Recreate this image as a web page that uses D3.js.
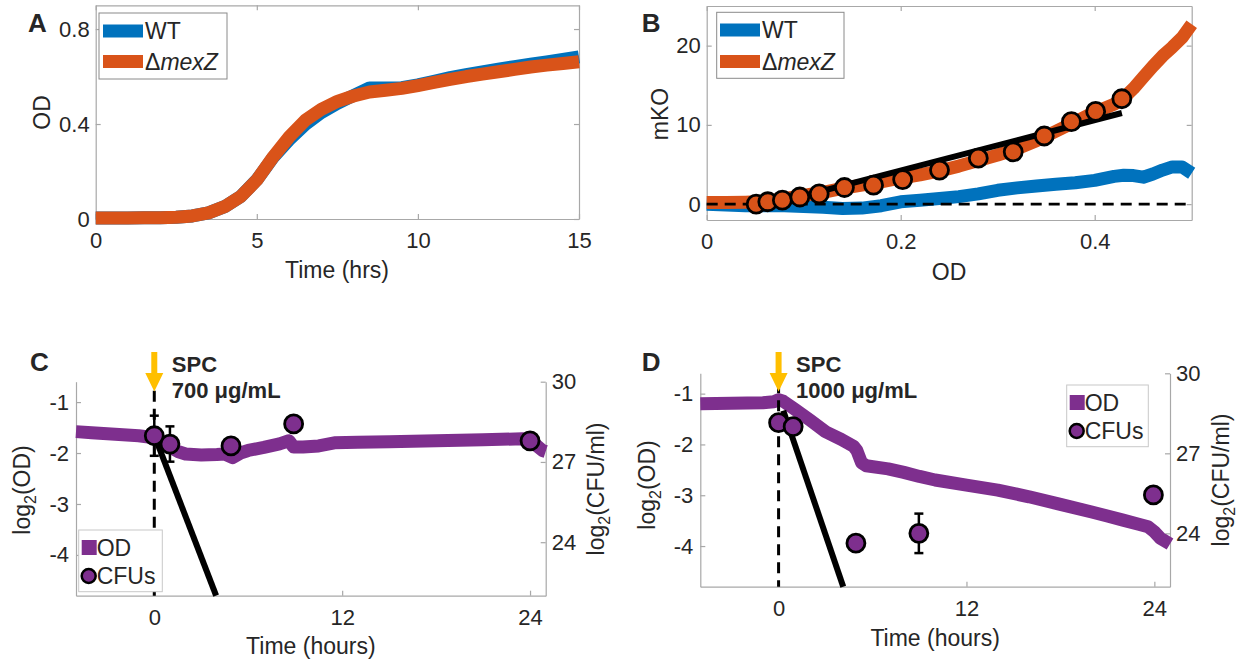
<!DOCTYPE html>
<html><head><meta charset="utf-8">
<script src="https://cdn.jsdelivr.net/npm/d3@7"></script>
<style>
body{margin:0;background:#fff}
svg text{font-family:"Liberation Sans",Arial,sans-serif;fill:#262626}
</style>
</head><body>
<svg id="chart" width="1247" height="663"></svg>
<script>
// ---------- Panel A data ----------
const timeA = [0,0.5,1,1.5,2,2.5,3,3.5,4,4.5,5,5.5,6,6.5,7,7.5,8,8.5,9,9.5,10,10.5,11,11.5,12,12.5,13,13.5,14,14.5,15];
const odWT   = [0.004,0.004,0.004,0.005,0.005,0.007,0.013,0.026,0.052,0.095,0.165,0.258,0.333,0.398,0.448,0.487,0.52,0.552,0.552,0.553,0.565,0.58,0.595,0.608,0.62,0.631,0.642,0.652,0.662,0.672,0.683];
const odMexZ = [0.004,0.004,0.004,0.005,0.005,0.007,0.013,0.026,0.052,0.095,0.164,0.26,0.345,0.415,0.462,0.495,0.518,0.535,0.542,0.55,0.562,0.575,0.588,0.6,0.61,0.62,0.63,0.64,0.648,0.655,0.662];
const xTicksA = [0,5,10,15];
const yTicksA = [0,0.4,0.8];

// ---------- Panel B data ----------
const odB = [0,0.02,0.04,0.05,0.06,0.08,0.1,0.12,0.14,0.16,0.18,0.2,0.22,0.24,0.26,0.28,0.3,0.32,0.34,0.36,0.38,0.4,0.42,0.43,0.44,0.45,0.46,0.47,0.48,0.49,0.5];
const mkoWT   = [0,-0.1,-0.2,-0.2,-0.2,-0.2,-0.3,-0.4,-0.55,-0.5,-0.2,0.3,0.5,0.7,0.95,1.3,1.75,2.05,2.3,2.5,2.7,3.0,3.5,3.65,3.6,3.4,3.8,4.3,4.7,4.7,3.9];
const mkoMexZ = [0.2,0.2,0.25,0.3,0.35,0.7,1.1,1.5,2.0,2.4,2.8,3.3,3.7,4.2,4.8,5.5,6.2,7.0,8.0,9.2,10.4,11.6,12.6,13.4,14.6,16.0,17.4,18.7,19.8,21.0,22.7];
const odPtsB  = [0.051,0.063,0.078,0.096,0.116,0.142,0.172,0.202,0.24,0.28,0.316,0.348,0.376,0.401,0.428];
const mkoPtsB = [0,0.3,0.5,0.9,1.3,2.1,2.4,3.1,4.3,5.8,6.6,8.6,10.4,11.7,13.3];
const fitOdB  = [0.051,0.428];
const fitMkoB = [-0.5,11.5];
const xTicksB = [0,0.2,0.4];
const yTicksB = [0,10,20];

// ---------- Panel C data ----------
const timeC  = [-5,-4,-3,-2,-1,0,0.5,1,1.5,2,3,4,4.5,5,5.5,6,7,8,8.6,8.9,9.5,10.5,11.5,13,15,18,21,23.5,24,24.4,24.8,25];
const logOdC = [-1.58,-1.6,-1.62,-1.64,-1.66,-1.7,-1.78,-1.88,-1.97,-2.02,-2.04,-2.03,-2.02,-2.09,-2.0,-1.95,-1.89,-1.82,-1.76,-1.88,-1.88,-1.86,-1.8,-1.79,-1.78,-1.76,-1.74,-1.72,-1.73,-1.85,-1.95,-1.97];
const cfuTimeC = [0,1.0,4.9,8.9,24];
const cfuC     = [27.98,27.67,27.6,28.42,27.79];
const cfuErrC  = [0.75,0.66,0,0,0];
const fitTimeC = [0,3.95];
const fitCfuC  = [28.0,22];

// ---------- Panel D data ----------
const timeD  = [-5,-3,-1,-0.3,0,0.3,1,2,3,4,4.8,5.0,5.3,5.6,7,8,9,10,12,14,16,18,20,21,22,23,23.6,24,24.4,25];
const logOdD = [-1.2,-1.19,-1.18,-1.16,-1.12,-1.15,-1.3,-1.52,-1.75,-1.9,-2.04,-2.12,-2.36,-2.42,-2.48,-2.55,-2.63,-2.7,-2.8,-2.9,-3.03,-3.18,-3.33,-3.41,-3.49,-3.57,-3.62,-3.72,-3.85,-3.96];
const cfuTimeD = [0,0.93,4.94,8.96,23.94];
const cfuD     = [28.15,28.0,23.63,24.0,25.44];
const cfuErrD  = [0,0,0,0.74,0];
const fitTimeD = [0.3,4.13];
const fitCfuD  = [28.6,22];

const xTicksCD = [0,12,24];
const yTicksOD = [-1,-2,-3,-4];
const yTicksCFU = [24,27,30];

// ---------- styles ----------
const BLUE = "#0072BD", ORANGE = "#D95319", PURPLE = "#7E2F8E", YELLOW = "#FFBF00";
const AXC = "#a8a8a8", TXT = "#262626";
const LW = 13;
const svg = d3.select("#chart");

function styleAxis(g){
  g.selectAll(".domain").attr("stroke",AXC).attr("stroke-width",1.2);
  g.selectAll(".tick line").attr("stroke",AXC).attr("stroke-width",1.2);
  g.selectAll(".tick text").attr("font-size",22).attr("fill",TXT).attr("font-family","Liberation Sans, Arial, sans-serif");
}
const fmtNum = d => (d<0?"-":"") + String(Math.abs(d));

function boxAxes(x, y, xt, yt){
  const [x0,x1] = x.range(), [y0,y1] = y.range();
  styleAxis(svg.append("g").attr("transform",`translate(0,${y0})`)
    .call(d3.axisBottom(x).tickValues(xt).tickFormat(fmtNum).tickSizeInner(-5).tickSizeOuter(0).tickPadding(13.5)));
  styleAxis(svg.append("g").attr("transform",`translate(0,${y1})`)
    .call(d3.axisTop(x).tickValues(xt).tickFormat("").tickSizeInner(-5).tickSizeOuter(0)));
  styleAxis(svg.append("g").attr("transform",`translate(${x0},0)`)
    .call(d3.axisLeft(y).tickValues(yt).tickFormat(fmtNum).tickSizeInner(-5).tickSizeOuter(0).tickPadding(6)));
  styleAxis(svg.append("g").attr("transform",`translate(${x1},0)`)
    .call(d3.axisRight(y).tickValues(yt).tickFormat("").tickSizeInner(-5).tickSizeOuter(0)));
}

function label(x,y,txt,opts={}){
  const t = svg.append("text").attr("x",x).attr("y",y).attr("font-size",opts.size||23)
    .attr("text-anchor",opts.anchor||"middle").attr("fill",TXT).text(txt);
  if(opts.bold) t.attr("font-weight","bold").attr("fill","#000");
  if(opts.rot) t.attr("transform",`rotate(-90,${x},${y})`);
  return t;
}
function logLabel(x,y,inner){
  const t = svg.append("text").attr("font-size",23).attr("text-anchor","middle").attr("fill",TXT)
    .attr("transform",`translate(${x},${y}) rotate(-90)`);
  t.append("tspan").text("log");
  t.append("tspan").attr("font-size",16).attr("dy",6).text("2");
  t.append("tspan").attr("dy",-6).text(inner);
}

// ================= Panel A =================
{
  const x = d3.scaleLinear().domain([0,15]).range([95.7,579]);
  const y = d3.scaleLinear().domain([0,0.9]).range([219,5.3]);
  boxAxes(x,y,xTicksA,yTicksA);
  const line = d3.line().x((d,i)=>x(timeA[i])).y(d=>y(d));
  svg.append("path").attr("d",line(odWT)).attr("fill","none").attr("stroke",BLUE).attr("stroke-width",LW).attr("stroke-linejoin","round");
  svg.append("path").attr("d",line(odMexZ)).attr("fill","none").attr("stroke",ORANGE).attr("stroke-width",LW).attr("stroke-linejoin","round");
  // legend
  svg.append("rect").attr("x",99).attr("y",13).attr("width",128).attr("height",66).attr("fill","#fff").attr("stroke","#8a8a8a").attr("stroke-width",1);
  svg.append("line").attr("x1",103).attr("x2",143).attr("y1",31).attr("y2",31).attr("stroke",BLUE).attr("stroke-width",LW);
  svg.append("line").attr("x1",103).attr("x2",143).attr("y1",61.5).attr("y2",61.5).attr("stroke",ORANGE).attr("stroke-width",LW);
  label(145,39,"WT",{anchor:"start"});
  const t = label(145,70,"",{anchor:"start"});
  t.append("tspan").text("Δ"); t.append("tspan").attr("font-style","italic").text("mexZ");
  label(49.5,112.5,"OD",{rot:true});
  label(337,278,"Time (hrs)");
  label(28,32,"A",{anchor:"start",bold:true,size:26});
}

// ================= Panel B =================
{
  const x = d3.scaleLinear().domain([0,0.5]).range([706.7,1191.7]);
  const y = d3.scaleLinear().domain([-2,25]).range([220,6]);
  boxAxes(x,y,xTicksB,yTicksB);
  const line = d3.line().x((d,i)=>x(odB[i])).y(d=>y(d));
  svg.append("path").attr("d",line(mkoWT)).attr("fill","none").attr("stroke",BLUE).attr("stroke-width",LW).attr("stroke-linejoin","round");
  svg.append("path").attr("d",line(mkoMexZ)).attr("fill","none").attr("stroke",ORANGE).attr("stroke-width",LW).attr("stroke-linejoin","round");
  // zero dashed baseline
  svg.append("line").attr("x1",x(0)).attr("x2",x(0.5)).attr("y1",y(0)).attr("y2",y(0))
    .attr("stroke","#000").attr("stroke-width",2.8).attr("stroke-dasharray","11,7");
  // fit line
  svg.append("line").attr("x1",x(fitOdB[0])).attr("x2",x(fitOdB[1])).attr("y1",y(fitMkoB[0])).attr("y2",y(fitMkoB[1]))
    .attr("stroke","#000").attr("stroke-width",6);
  svg.selectAll(null).data(odPtsB).enter().append("circle")
    .attr("cx",d=>x(d)).attr("cy",(d,i)=>y(mkoPtsB[i])).attr("r",9)
    .attr("fill",ORANGE).attr("stroke","#000").attr("stroke-width",2.8);
  // legend
  svg.append("rect").attr("x",716.7).attr("y",12.3).attr("width",127.3).attr("height",66).attr("fill","#fff").attr("stroke","#8a8a8a").attr("stroke-width",1);
  svg.append("line").attr("x1",720).attr("x2",760).attr("y1",30).attr("y2",30).attr("stroke",BLUE).attr("stroke-width",LW);
  svg.append("line").attr("x1",720).attr("x2",760).attr("y1",61.5).attr("y2",61.5).attr("stroke",ORANGE).attr("stroke-width",LW);
  label(762,38,"WT",{anchor:"start"});
  const t = label(762,70,"",{anchor:"start"});
  t.append("tspan").text("Δ"); t.append("tspan").attr("font-style","italic").text("mexZ");
  label(668,114,"mKO",{rot:true});
  label(949,280,"OD");
  label(641.7,32,"B",{anchor:"start",bold:true,size:26});
}

// ================= Panels C & D =================
function killPanel(cfg){
  const x = d3.scaleLinear().domain([-5,25]).range(cfg.xr);
  const yL = d3.scaleLinear().domain([-4.8,-0.6]).range(cfg.yr);
  const yR = d3.scaleLinear().domain([22,30]).range(cfg.yr);
  const [x0,x1] = cfg.xr, [yb,yt] = cfg.yr;
  styleAxis(svg.append("g").attr("transform",`translate(0,${yb})`)
    .call(d3.axisBottom(x).tickValues(xTicksCD).tickFormat(fmtNum).tickSizeInner(-5).tickSizeOuter(0).tickPadding(13.5)));
  styleAxis(svg.append("g").attr("transform",`translate(${x0},0)`)
    .call(d3.axisLeft(yL).tickValues(yTicksOD).tickFormat(fmtNum).tickSizeInner(-5).tickSizeOuter(0).tickPadding(7)));
  styleAxis(svg.append("g").attr("transform",`translate(${x1},0)`)
    .call(d3.axisRight(yR).tickValues(yTicksCFU).tickFormat(fmtNum).tickSizeInner(-5).tickSizeOuter(0).tickPadding(6)));

  // OD line
  const line = d3.line().x((d,i)=>x(cfg.t[i])).y(d=>yL(d));
  svg.append("path").attr("d",line(cfg.od)).attr("fill","none").attr("stroke",PURPLE).attr("stroke-width",LW).attr("stroke-linejoin","round");
  // dashed vertical at t=0
  svg.append("line").attr("x1",x(0)).attr("x2",x(0)).attr("y1",yt+9).attr("y2",yb)
    .attr("stroke","#000").attr("stroke-width",3).attr("stroke-dasharray","11,7");
  // fit line
  svg.append("line").attr("x1",x(cfg.ft[0])).attr("x2",x(cfg.ft[1])).attr("y1",yR(cfg.fc[0])).attr("y2",yR(cfg.fc[1]))
    .attr("stroke","#000").attr("stroke-width",6);
  // error bars
  cfg.ct.forEach((tt,i)=>{
    const e = cfg.err[i]; if(!e) return;
    const cx = x(tt), ya = yR(cfg.c[i]-e), yb2 = yR(cfg.c[i]+e);
    svg.append("line").attr("x1",cx).attr("x2",cx).attr("y1",ya).attr("y2",yb2).attr("stroke","#000").attr("stroke-width",2.5);
    [ya,yb2].forEach(yy=>svg.append("line").attr("x1",cx-4.5).attr("x2",cx+4.5).attr("y1",yy).attr("y2",yy).attr("stroke","#000").attr("stroke-width",2.5));
  });
  svg.selectAll(null).data(cfg.ct).enter().append("circle")
    .attr("cx",d=>x(d)).attr("cy",(d,i)=>yR(cfg.c[i])).attr("r",9)
    .attr("fill",PURPLE).attr("stroke","#000").attr("stroke-width",2.8);
  // legend
  const L = cfg.leg;
  svg.append("rect").attr("x",L.x).attr("y",L.y).attr("width",L.w).attr("height",L.h).attr("fill","#fff").attr("stroke","#c8c8c8").attr("stroke-width",1);
  svg.append("rect").attr("x",L.x+3).attr("y",L.y+10).attr("width",15).attr("height",15).attr("fill",PURPLE);
  svg.append("circle").attr("cx",L.x+10).attr("cy",L.y+46).attr("r",7).attr("fill",PURPLE).attr("stroke","#000").attr("stroke-width",2.5);
  label(L.x+18,L.y+26,"OD",{anchor:"start"});
  label(L.x+18,L.y+54,"CFUs",{anchor:"start"});
  // arrow
  const ax = x(0);
  svg.append("path").attr("fill",YELLOW)
    .attr("d",`M${ax-3},352 L${ax+3},352 L${ax+3},373 L${ax+9},373 L${ax},391.5 L${ax-9},373 L${ax-3},373 Z`);
  label(ax+17.5,371.7,"SPC",{anchor:"start",bold:true,size:22});
  label(ax+17.5,398.3,cfg.dose,{anchor:"start",bold:true,size:22});
  // axis labels
  logLabel(cfg.lx,cfg.ly,"(OD)");
  logLabel(cfg.rx,cfg.ry,"(CFU/ml)");
  label((x0+x1)/2,cfg.xlY,"Time (hours)");
  label(cfg.letX,370.7,cfg.letter,{anchor:"start",bold:true,size:26});
}

killPanel({xr:[76,545.7], yr:[595.7,381.7], t:timeC, od:logOdC, ct:cfuTimeC, c:cfuC, err:cfuErrC,
  ft:fitTimeC, fc:fitCfuC, leg:{x:78.7,y:530,w:83.6,h:61.7}, dose:"700 μg/mL",
  lx:30, ly:490, rx:604, ry:489, xlY:654, letX:30, letter:"C"});
killPanel({xr:[700.3,1170], yr:[586.7,373.3], t:timeD, od:logOdD, ct:cfuTimeD, c:cfuD, err:cfuErrD,
  ft:fitTimeD, fc:fitCfuD, leg:{x:1066.7,y:385,w:81.6,h:61.7}, dose:"1000 μg/mL",
  lx:655, ly:485, rx:1228.5, ry:480, xlY:646, letX:641.7, letter:"D"});
</script>
</body></html>
